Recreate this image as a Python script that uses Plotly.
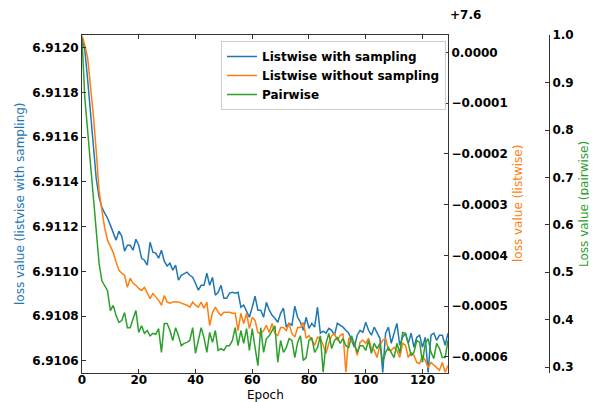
import plotly.graph_objects as go

epochs = list(range(130))

loss_listwise_sampling = [
    6.912053, 6.911990, 6.911856, 6.911713, 6.911565, 6.911417, 6.911332, 6.911287, 6.911261, 6.911238,
    6.911207, 6.911176, 6.911140, 6.911180, 6.911158, 6.911091, 6.911117, 6.911117, 6.911095, 6.911144,
    6.911117, 6.911059, 6.911050, 6.911028, 6.911131, 6.911086, 6.911082, 6.911059, 6.911095, 6.911046,
    6.911024, 6.911037, 6.911006, 6.911028, 6.910961, 6.910983, 6.910992, 6.910997, 6.910983, 6.910974,
    6.910947, 6.910916, 6.910938, 6.910938, 6.910992, 6.910938, 6.910974, 6.910894, 6.910907, 6.910938,
    6.910880, 6.910880, 6.910903, 6.910907, 6.910903, 6.910907, 6.910840, 6.910849, 6.910822, 6.910795,
    6.910840, 6.910889, 6.910827, 6.910827, 6.910795, 6.910862, 6.910827, 6.910804, 6.910791, 6.910773,
    6.910813, 6.910836, 6.910751, 6.910768, 6.910760, 6.910845, 6.910795, 6.910773, 6.910737, 6.910795,
    6.910746, 6.910768, 6.910751, 6.910840, 6.910724, 6.910733, 6.910724, 6.910746, 6.910737, 6.910715,
    6.910768, 6.910760, 6.910751, 6.910737, 6.910724, 6.910692, 6.910661, 6.910715, 6.910737, 6.910728,
    6.910773, 6.910737, 6.910715, 6.910751, 6.910724, 6.910701, 6.910549, 6.910724, 6.910751, 6.910679,
    6.910724, 6.910768, 6.910670, 6.910706, 6.910724, 6.910679, 6.910724, 6.910661, 6.910706, 6.910715,
    6.910661, 6.910706, 6.910549, 6.910715, 6.910724, 6.910692, 6.910715, 6.910715, 6.910670, 6.910724,
]

loss_listwise_no_sampling = [
    7.600032, 7.600014, 7.599989, 7.599936, 7.599876, 7.599807, 7.599728, 7.599689, 7.599654, 7.599630,
    7.599618, 7.599606, 7.599587, 7.599571, 7.599565, 7.599561, 7.599537, 7.599555, 7.599545, 7.599541,
    7.599535, 7.599531, 7.599537, 7.599525, 7.599515, 7.599525, 7.599519, 7.599512, 7.599502, 7.599521,
    7.599508, 7.599506, 7.599508, 7.599508, 7.599508, 7.599506, 7.599504, 7.599502, 7.599498, 7.599508,
    7.599502, 7.599498, 7.599508, 7.599496, 7.599508, 7.599462, 7.599488, 7.599498, 7.599488, 7.599482,
    7.599488, 7.599488, 7.599488, 7.599486, 7.599486, 7.599452, 7.599486, 7.599466, 7.599486, 7.599456,
    7.599478, 7.599472, 7.599448, 7.599446, 7.599452, 7.599462, 7.599448, 7.599466, 7.599446, 7.599442,
    7.599458, 7.599458, 7.599452, 7.599466, 7.599446, 7.599439, 7.599458, 7.599458, 7.599468, 7.599437,
    7.599442, 7.599433, 7.599423, 7.599439, 7.599437, 7.599423, 7.599407, 7.599427, 7.599442, 7.599446,
    7.599433, 7.599442, 7.599446, 7.599370, 7.599437, 7.599433, 7.599427, 7.599403, 7.599429, 7.599433,
    7.599427, 7.599437, 7.599417, 7.599413, 7.599399, 7.599423, 7.599433, 7.599437, 7.599413, 7.599413,
    7.599419, 7.599413, 7.599399, 7.599427, 7.599423, 7.599399, 7.599409, 7.599403, 7.599389, 7.599387,
    7.599403, 7.599393, 7.599379, 7.599389, 7.599383, 7.599379, 7.599374, 7.599389, 7.599370, 7.599383,
]

loss_pairwise = [
    0.994, 0.867, 0.798, 0.724, 0.651, 0.577, 0.520, 0.482, 0.472, 0.461,
    0.419, 0.430, 0.409, 0.394, 0.398, 0.415, 0.383, 0.383, 0.402, 0.419,
    0.373, 0.387, 0.371, 0.377, 0.366, 0.371, 0.369, 0.381, 0.331, 0.392,
    0.392, 0.377, 0.356, 0.383, 0.366, 0.345, 0.350, 0.352, 0.356, 0.383,
    0.329, 0.356, 0.383, 0.362, 0.331, 0.373, 0.352, 0.377, 0.335, 0.339,
    0.335, 0.345, 0.345, 0.356, 0.383, 0.345, 0.377, 0.350, 0.381, 0.335,
    0.381, 0.341, 0.303, 0.383, 0.331, 0.360, 0.366, 0.377, 0.387, 0.310,
    0.356, 0.331, 0.341, 0.360, 0.356, 0.320, 0.352, 0.366, 0.314, 0.320,
    0.356, 0.362, 0.331, 0.341, 0.366, 0.289, 0.350, 0.371, 0.339, 0.356,
    0.362, 0.350, 0.360, 0.345, 0.341, 0.366, 0.350, 0.331, 0.345, 0.345,
    0.335, 0.356, 0.329, 0.350, 0.339, 0.350, 0.310, 0.331, 0.341, 0.331,
    0.320, 0.350, 0.329, 0.373, 0.371, 0.350, 0.324, 0.331, 0.356, 0.352,
    0.310, 0.350, 0.360, 0.331, 0.318, 0.350, 0.339, 0.320, 0.320, 0.356,
]

x_ticks = [0, 20, 40, 60, 80, 100, 120]
left_ticks = [6.9106, 6.9108, 6.9110, 6.9112, 6.9114, 6.9116, 6.9118, 6.9120]
mid_ticks = [7.6, 7.5999, 7.5998, 7.5997, 7.5996, 7.5995, 7.5994]
mid_tick_labels = ["0.0000", "\u22120.0001", "\u22120.0002", "\u22120.0003",
                   "\u22120.0004", "\u22120.0005", "\u22120.0006"]
right_ticks = [0.3, 0.4, 0.5, 0.6, 0.7, 0.8, 0.9, 1.0]

names = ["Listwise with sampling", "Listwise without sampling", "Pairwise"]
colors = ["#1f77b4", "#ff7f0e", "#2ca02c"]

FONT = "DejaVu Sans"
OFF = 8  # page body margin of the html document
W, H = 597 - OFF, 402 - OFF
# plot frame in window pixels
FX0, FX1, FY0, FY1 = 82, 448, 35, 373
AX3 = 549
L = FX0 - OFF
T = FY0 - OFF
R = W - (AX3 - OFF)
B = H - (FY1 - OFF)
plot_w = W - L - R
plot_h = H - T - B
dom_end = (FX1 - FX0) / plot_w


def px(xw):
    return (xw - FX0) / plot_w


def py(yw):
    return 1 - (yw - FY0) / plot_h


fig = go.Figure()
fig.add_trace(go.Scatter(x=epochs, y=loss_listwise_sampling, name=names[0], mode="lines",
                         line=dict(color=colors[0], width=1.5), yaxis="y"))
fig.add_trace(go.Scatter(x=epochs, y=loss_listwise_no_sampling, name=names[1], mode="lines",
                         line=dict(color=colors[1], width=1.5), yaxis="y2"))
fig.add_trace(go.Scatter(x=epochs, y=loss_pairwise, name=names[2], mode="lines",
                         line=dict(color=colors[2], width=1.5), yaxis="y3"))

tickfont = dict(family=FONT, size=12, color="black", weight="bold")
axcommon = dict(showgrid=False, zeroline=False, showline=True, linecolor="#333333",
                linewidth=1, ticks="inside", ticklen=4, tickcolor="#333333",
                tickfont=tickfont)

fig.update_layout(
    width=W, height=H,
    margin=dict(l=L, r=R, t=T, b=B, autoexpand=False),
    paper_bgcolor="white", plot_bgcolor="white",
    font=dict(family=FONT, size=12, color="black"),
    showlegend=True,
    legend=dict(x=px(446), y=py(41), xanchor="right", yanchor="top",
                bgcolor="rgba(255,255,255,0.9)", bordercolor="#cccccc", borderwidth=1,
                font=dict(family=FONT, size=12, color="black", weight="bold"),
                tracegroupgap=0, itemwidth=30),
    xaxis=dict(domain=[0, dom_end], range=[0, 129], tickvals=x_ticks, mirror="ticks",
               ticklabelstandoff=-4, **axcommon),
    yaxis=dict(range=[6.910546, 6.912057], tickvals=left_ticks, tickformat=".4f", **axcommon),
    yaxis2=dict(range=[7.5993684, 7.6000341], tickvals=mid_ticks, ticktext=mid_tick_labels,
                overlaying="y", side="right", anchor="x", **axcommon),
    yaxis3=dict(range=[0.2874, 1.0005], tickvals=right_ticks, tickformat=".1f",
                overlaying="y", side="right", anchor="free", position=1.0, **axcommon),
)

fig.add_annotation(text="Epoch", x=px(265), y=py(394.5), xanchor="center", yanchor="middle",
                   xref="paper", yref="paper", showarrow=False, borderpad=0,
                   font=dict(family=FONT, size=12, color="black"))
fig.add_annotation(text="loss value (listvise with sampling)", x=px(20), y=py(204),
                   xanchor="center", yanchor="middle", borderpad=0,
                   xref="paper", yref="paper", showarrow=False, textangle=-90,
                   font=dict(family=FONT, size=12, color=colors[0]))
fig.add_annotation(text="loss value (listwise)", x=px(518), y=py(204),
                   xanchor="center", yanchor="middle", borderpad=0,
                   xref="paper", yref="paper", showarrow=False, textangle=-90,
                   font=dict(family=FONT, size=12, color=colors[1]))
fig.add_annotation(text="Loss value (pairwise)", x=px(584), y=py(204),
                   xanchor="center", yanchor="middle", borderpad=0,
                   xref="paper", yref="paper", showarrow=False, textangle=-90,
                   font=dict(family=FONT, size=12, color=colors[2]))
fig.add_annotation(text="+7.6", x=px(449), y=py(14.5), xanchor="left", yanchor="middle",
                   xref="paper", yref="paper", showarrow=False, borderpad=0,
                   font=dict(family=FONT, size=12, color="black", weight="bold"))

fig.write_html("out.html")
